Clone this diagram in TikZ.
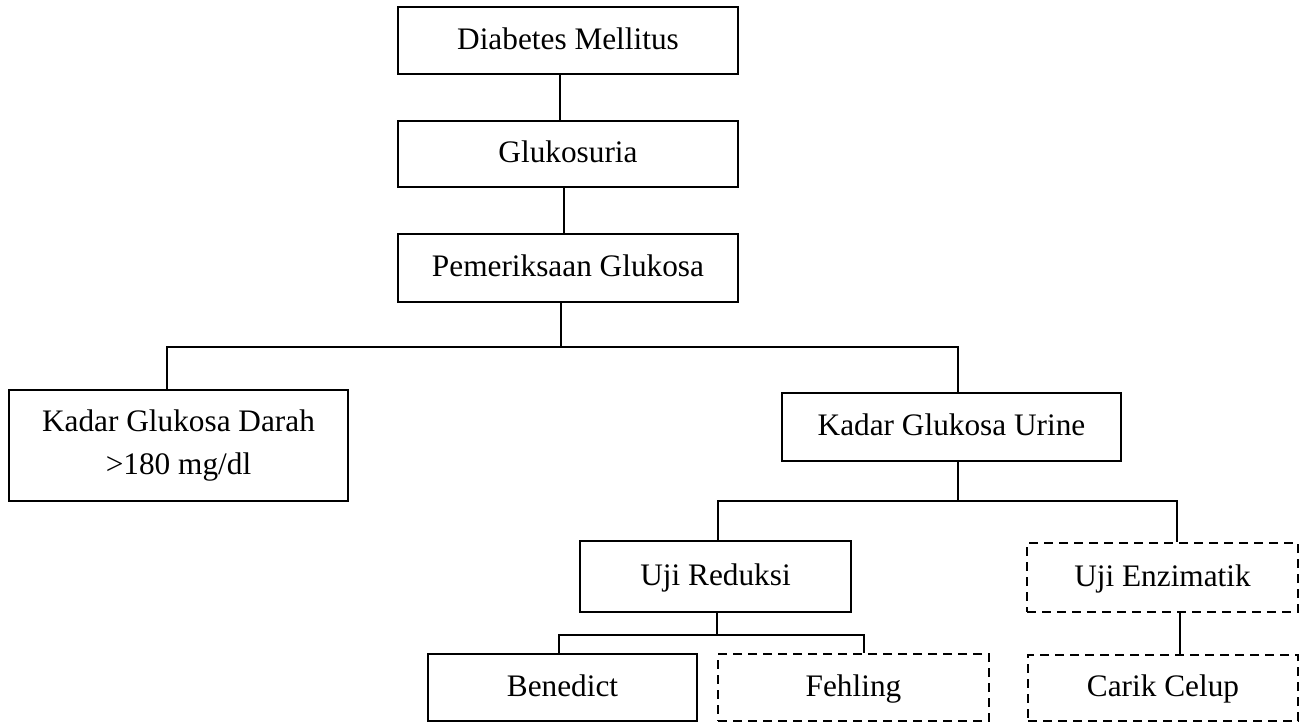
\documentclass[tikz,border=0pt]{standalone}
\usepackage{fontspec}
\setmainfont{Liberation Serif}
\begin{document}
\begin{tikzpicture}[x=1pt,y=-1pt,
  base/.style={draw,line width=1.8pt,rectangle,inner sep=0pt,
    font=\fontsize{31.3}{43}\selectfont},
  mbox/.style={base,align=center},
  box/.style={base,text height=22pt,text depth=5pt},
  dbox/.style={box,dash pattern=on 9pt off 6pt},
  conn/.style={line width=1.3pt}]
\useasboundingbox (0,0) rectangle (1306,723);
\node[box,minimum width=340pt,minimum height=67pt] (b1) at (568,40.5) {Diabetes Mellitus};
\node[box,minimum width=340pt,minimum height=66pt] (b2) at (568,154) {Glukosuria};
\node[box,minimum width=340pt,minimum height=68pt] (b3) at (568,268) {Pemeriksaan Glukosa};
\node[mbox,minimum width=339pt,minimum height=111pt] (b4) at (178.5,445.5) {Kadar Glukosa Darah\\>180 mg/dl};
\node[box,minimum width=339pt,minimum height=68pt] (b5) at (951.5,427) {Kadar Glukosa Urine};
\node[box,minimum width=271pt,minimum height=71pt] (b6) at (715.5,576.5) {Uji Reduksi};
\node[dbox,minimum width=271pt,minimum height=69pt] (b7) at (1162.5,577.5) {Uji Enzimatik};
\node[box,minimum width=269pt,minimum height=67pt] (b8) at (562.5,687.5) {Benedict};
\node[dbox,minimum width=271pt,minimum height=67pt] (b9) at (853.5,687.5) {Fehling};
\node[dbox,minimum width=270pt,minimum height=66pt] (b10) at (1163,688) {Carik Celup};
\coordinate (j1) at (561,347);
\coordinate (j2) at (958,501);
\coordinate (j3) at (717,635);
\draw[conn] ([xshift=-8pt]b1.south) -- ([xshift=-8pt]b2.north);
\draw[conn] ([xshift=-4pt]b2.south) -- ([xshift=-4pt]b3.north);
\draw[conn] ([xshift=-7pt]b3.south) -- (j1);
\draw[conn] ([xshift=-11.5pt]b4.north) |- (j1) -| ([xshift=6.5pt]b5.north);
\draw[conn] ([xshift=6.5pt]b5.south) -- (j2);
\draw[conn] ([xshift=2.5pt]b6.north) |- (j2) -| ([xshift=14.5pt]b7.north);
\draw[conn] ([xshift=1.5pt]b6.south) -- (j3);
\draw[conn] ([xshift=-3.5pt]b8.north) |- (j3) -| ([xshift=10.5pt]b9.north);
\draw[conn] ([xshift=17.5pt]b7.south) -- ([xshift=17pt]b10.north);
\end{tikzpicture}
\end{document}
